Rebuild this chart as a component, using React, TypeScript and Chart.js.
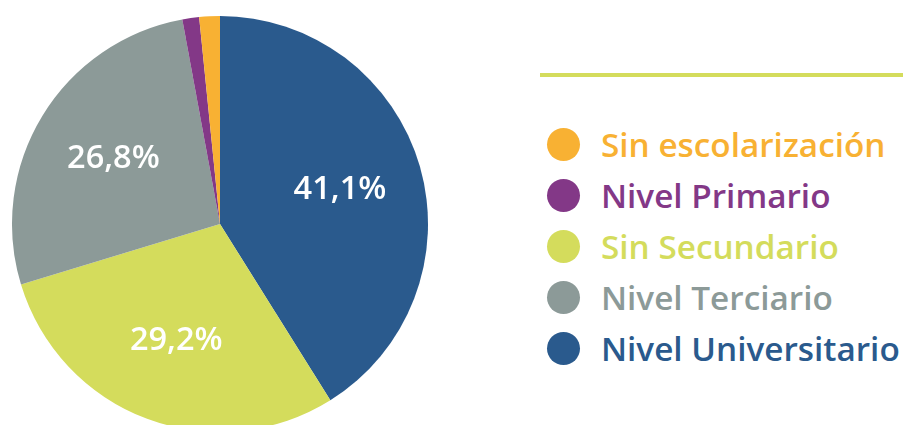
import React, { useEffect, useRef } from "react";
import { Chart, registerables } from "chart.js";

Chart.register(...registerables);

// Pie order (clockwise from 12 o'clock)
const categories = [
  "Nivel Universitario",
  "Sin Secundario",
  "Nivel Terciario",
  "Nivel Primario",
  "Sin escolarización",
];
const values = [41.1, 29.2, 26.8, 1.3, 1.6];
const colors = ["#2A5A8D", "#D4DC5C", "#8C9A98", "#833887", "#F8B133"];
const valueLabels = ["41,1%", "29,2%", "26,8%", "", ""];
// Legend order (indices into categories)
const legendOrder = [4, 3, 1, 2, 0];

const FONT = "'Open Sans', 'Noto Sans', sans-serif";

const sliceLabelPlugin = {
  id: "sliceLabels",
  afterDatasetsDraw(chart: any) {
    const ctx = chart.ctx;
    const meta = chart.getDatasetMeta(0);
    ctx.save();
    ctx.fillStyle = "#ffffff";
    ctx.font = `600 32.5px ${FONT}`;
    ctx.textAlign = "center";
    ctx.textBaseline = "middle";
    meta.data.forEach((arc: any, i: number) => {
      const text = valueLabels[i];
      if (!text) return;
      const { x, y, startAngle, endAngle, outerRadius } = arc.getProps(
        ["x", "y", "startAngle", "endAngle", "outerRadius"],
        true
      );
      const mid = (startAngle + endAngle) / 2;
      const r = outerRadius * 0.6;
      ctx.fillText(text, x + Math.cos(mid) * r, y + Math.sin(mid) * r);
    });
    ctx.restore();
  },
};

export default function App() {
  const ref = useRef<HTMLCanvasElement>(null);

  useEffect(() => {
    if (!ref.current) return;
    const chart = new Chart(ref.current, {
      type: "pie",
      data: {
        labels: categories,
        datasets: [
          {
            data: values,
            backgroundColor: colors,
            borderWidth: 0,
            hoverOffset: 0,
            offset: 0,
          },
        ],
      },
      options: {
        responsive: false,
        animation: false,
        layout: { padding: { left: 12, right: 12, top: 16, bottom: 8 } },
        plugins: {
          legend: { display: false },
          tooltip: { enabled: false },
        },
        events: [],
      },
      plugins: [sliceLabelPlugin],
    });
    return () => chart.destroy();
  }, []);

  return (
    <div
      style={{
        position: "fixed",
        left: 0,
        top: 0,
        width: 903,
        height: 425,
        overflow: "hidden",
        background: "#ffffff",
        fontFamily: FONT,
      }}
    >
      <canvas
        ref={ref}
        width={440}
        height={440}
        style={{ position: "absolute", left: 0, top: 0, width: 440, height: 440 }}
      />
      <div
        style={{
          position: "absolute",
          left: 540,
          top: 73,
          width: 363,
          height: 4,
          background: colors[1],
        }}
      />
      {legendOrder.map((idx, k) => (
        <div
          key={categories[idx]}
          style={{
            position: "absolute",
            left: 547,
            top: 144 + k * 51 - 25,
            height: 50,
            display: "flex",
            alignItems: "center",
            whiteSpace: "nowrap",
          }}
        >
          <div
            style={{
              width: 33,
              height: 33,
              borderRadius: "50%",
              background: colors[idx],
              flex: "none",
            }}
          />
          <span
            style={{
              marginLeft: 21,
              color: colors[idx],
              fontSize: 33.3,
              fontWeight: 600,
              lineHeight: "50px",
            }}
          >
            {categories[idx]}
          </span>
        </div>
      ))}
    </div>
  );
}
